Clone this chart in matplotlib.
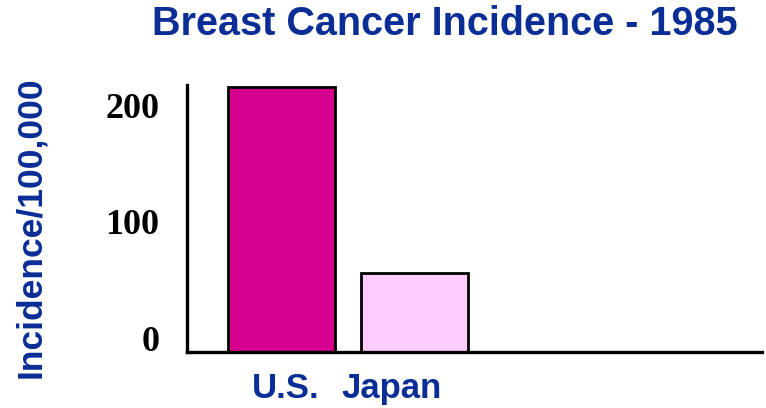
import matplotlib
matplotlib.use("Agg")
import matplotlib.pyplot as plt
import matplotlib.transforms as mtransforms

# data
countries = ["U.S.", "Japan"]
incidence = [228, 68]
bar_colors = ["#D6008F", "#FFCCFF"]
y_ticks = [0, 100, 200]
y_tick_labels = ["0", "100", "200"]

blue = "#0A2D96"

fig = plt.figure(figsize=(7.66, 4.08), dpi=100)
ax = fig.add_axes([0.244, 0.137, 0.751, 0.655])

x = list(range(len(countries)))
ax.bar(x, incidence, width=0.805, color=bar_colors, edgecolor="black", linewidth=2)

ax.set_xlim(-0.71, 3.61)
ax.set_ylim(0, 230)

for s in ["top", "right"]:
    ax.spines[s].set_visible(False)
for s in ["left", "bottom"]:
    ax.spines[s].set_linewidth(2.4)

ax.set_yticks(y_ticks)
ax.set_yticklabels(y_tick_labels, fontfamily="Liberation Serif", fontweight="bold",
                   fontsize=26, color="black")
ax.tick_params(axis="y", length=0, pad=20)
# labels sit a little above their ticks in the original
offset = mtransforms.ScaledTranslation(0, 0.14, fig.dpi_scale_trans)
for lab in ax.get_yticklabels():
    lab.set_transform(lab.get_transform() + offset)

ax.set_xticks(x)
ax.set_xticklabels(countries, fontfamily="Liberation Sans", fontweight="bold",
                   fontsize=25, color=blue)
ax.tick_params(axis="x", length=0, pad=14)
# category labels are not quite centred under the bars
x_shift = [0.045, -0.235]
for lab, dx in zip(ax.get_xticklabels(), x_shift):
    lab.set_transform(lab.get_transform() +
                      mtransforms.ScaledTranslation(dx, 0, fig.dpi_scale_trans))

ax.set_ylabel("Incidence/100,000", fontfamily="Liberation Sans", fontweight="bold",
              fontsize=25.5, color=blue)
ax.yaxis.set_label_coords(47 / 766, 1 - 227 / 408, transform=fig.transFigure)

fig.text(445 / 766, 0.941, "Breast Cancer Incidence - 1985", ha="center", va="center",
         fontfamily="Liberation Sans", fontweight="bold", fontsize=28.5, color=blue)

fig.savefig("out.png", dpi=100)
